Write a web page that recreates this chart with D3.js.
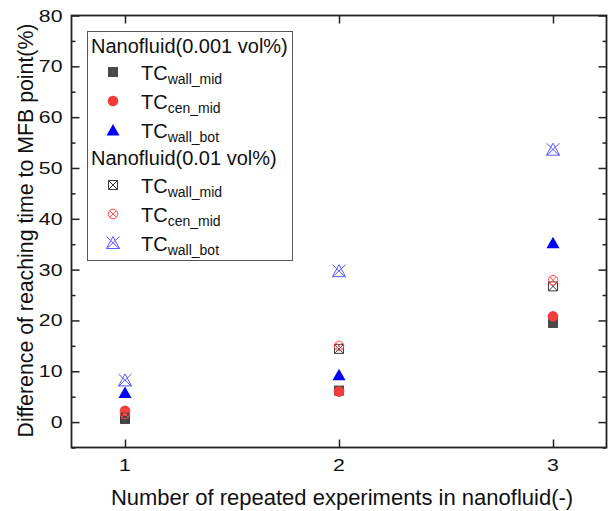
<!DOCTYPE html>
<html><head><meta charset="utf-8">
<script src="https://cdn.jsdelivr.net/npm/d3@7"></script>
<style>body{margin:0;background:#fff}svg{display:block}text{font-family:"Liberation Sans",Arial,sans-serif}</style>
</head><body><svg id="c" width="610" height="511"></svg>
<script>
const experiments = [1, 2, 3];
const wallMid001 = [0.6, 6.2, 19.5];
const cenMid001 = [2.2, 6.0, 20.8];
const wallBot001 = [5.8, 9.3, 35.3];
const wallMid01 = [0.9, 14.4, 26.7];
const cenMid01 = [1.6, 15.0, 27.9];
const wallBot01 = [8.2, 29.7, 53.6];
const xTicks = [1, 2, 3];
const yTicks = [0, 10, 20, 30, 40, 50, 60, 70, 80];
const yMinor = [-5, 5, 15, 25, 35, 45, 55, 65, 75];
const groupTitles = ["Nanofluid(0.001 vol%)", "Nanofluid(0.01 vol%)"];
const seriesSubs = ["wall_mid", "cen_mid", "wall_bot"];
const xTitle = "Number of repeated experiments in nanofluid(-)";
const yTitle = "Difference of reaching time to MFB point(%)";

const series = [
  {vals: wallMid001, shape: "square", color: "#4a4a4a", sub: seriesSubs[0]},
  {vals: cenMid001, shape: "circle", color: "#f23c3c", sub: seriesSubs[1]},
  {vals: wallBot001, shape: "triangle", color: "#0000ff", sub: seriesSubs[2]},
  {vals: wallMid01, shape: "squareX", color: "#3a3a3a", sub: seriesSubs[0]},
  {vals: cenMid01, shape: "circleX", color: "#ff4d4d", sub: seriesSubs[1]},
  {vals: wallBot01, shape: "triangleX", color: "#5a5aff", sub: seriesSubs[2]}
];

const L = 71.5, R = 606.5, T = 15.5, B = 447.5;
const x = d3.scaleLinear().domain([0.75, 3.25]).range([L, R]);
const y = d3.scaleLinear().domain([-5, 80]).range([B, T]);
const svg = d3.select("#c");
const axisColor = "#222";
const FONT = '"Liberation Sans",Arial,sans-serif';

function drawMarker(g, shape, color) {
  if (shape === "square") {
    g.append("rect").attr("x", -5).attr("y", -5).attr("width", 10).attr("height", 10).attr("fill", color);
  } else if (shape === "circle") {
    g.append("circle").attr("r", 5.3).attr("fill", color);
  } else if (shape === "triangle") {
    g.append("path").attr("d", "M0,-6L6.5,5.5L-6.5,5.5Z").attr("fill", color);
  } else if (shape === "squareX") {
    g.append("path").attr("d", "M-4.5,-4.5H4.5V4.5H-4.5Z M-4.5,-4.5L4.5,4.5 M4.5,-4.5L-4.5,4.5")
      .attr("fill", "none").attr("stroke", color).attr("stroke-width", 1);
  } else if (shape === "circleX") {
    g.append("circle").attr("r", 4.8).attr("fill", "none").attr("stroke", color).attr("stroke-width", 1);
    g.append("path").attr("d", "M-3.4,-3.4L3.4,3.4 M3.4,-3.4L-3.4,3.4").attr("stroke", color).attr("stroke-width", 1);
  } else if (shape === "triangleX") {
    g.append("path").attr("d", "M0,-6.5L6.5,5.5L-6.5,5.5Z M-6.5,-6.5L6.5,6 M6.5,-6.5L-6.5,6")
      .attr("fill", "none").attr("stroke", color).attr("stroke-width", 1);
  }
}

// data markers
series.forEach(s => {
  experiments.forEach((e, i) => {
    const g = svg.append("g").attr("transform", `translate(${x(e)},${y(s.vals[i])})`);
    drawMarker(g, s.shape, s.color);
  });
});

// axes: inward ticks, mirrored on right/top
const axL = d3.axisLeft(y).tickValues(yTicks).tickSize(-8).tickFormat("");
const axLm = d3.axisLeft(y).tickValues(yMinor).tickSize(-4).tickFormat("");
const axR = d3.axisRight(y).tickValues(yTicks).tickSize(-8).tickFormat("");
const axRm = d3.axisRight(y).tickValues(yMinor).tickSize(-4).tickFormat("");
const axB = d3.axisBottom(x).tickValues(xTicks).tickSize(-8).tickFormat("");
const axT = d3.axisTop(x).tickValues(xTicks).tickSize(-8).tickFormat("");

function styleAxis(g) {
  g.select(".domain").remove();
  g.selectAll("line").attr("stroke", axisColor).attr("stroke-width", 1.5);
}
svg.append("g").attr("transform", `translate(${L},0)`).call(axL).call(styleAxis);
svg.append("g").attr("transform", `translate(${L},0)`).call(axLm).call(styleAxis);
svg.append("g").attr("transform", `translate(${R},0)`).call(axR).call(styleAxis);
svg.append("g").attr("transform", `translate(${R},0)`).call(axRm).call(styleAxis);
svg.append("g").attr("transform", `translate(0,${B})`).call(axB).call(styleAxis);
svg.append("g").attr("transform", `translate(0,${T})`).call(axT).call(styleAxis);

// tick labels (slightly wide, as in the reference)
yTicks.forEach(v => {
  svg.append("text").attr("transform", `translate(62.5,${y(v) + 6}) scale(1.25,1)`)
    .attr("text-anchor", "end").style("font-size", "17px").style("font-family", FONT).attr("fill", "#111")
    .text(d3.format("d")(v));
});
xTicks.forEach(v => {
  svg.append("text").attr("transform", `translate(${x(v)},471) scale(1.25,1)`)
    .attr("text-anchor", "middle").style("font-size", "17px").style("font-family", FONT).attr("fill", "#111")
    .text(d3.format("d")(v));
});

svg.append("rect").attr("x", L).attr("y", T).attr("width", R - L).attr("height", B - T)
  .attr("fill", "none").attr("stroke", axisColor).attr("stroke-width", 1.8);

// axis titles
svg.append("text").attr("x", 342).attr("y", 505).attr("text-anchor", "middle")
  .style("font-size", "22px").attr("fill", "#111").text(xTitle);
svg.append("text").attr("transform", `translate(33,230.5) rotate(-90)`).attr("text-anchor", "middle")
  .style("font-size", "21.3px").attr("fill", "#111").text(yTitle);

// legend
const lg = svg.append("g");
lg.append("rect").attr("x", 87.5).attr("y", 31.5).attr("width", 205).attr("height", 229)
  .attr("fill", "#fff").attr("stroke", "#555").attr("stroke-width", 1);
const headerY = [52.5, 165];
const rowY = [[72, 101, 130], [185, 214, 243]];
groupTitles.forEach((t, gi) => {
  lg.append("text").attr("x", 91).attr("y", headerY[gi]).style("font-size", "20px").attr("fill", "#111").text(t);
  for (let k = 0; k < 3; k++) {
    const s = series[gi * 3 + k];
    const my = rowY[gi][k];
    const m = lg.append("g").attr("transform", `translate(113,${my})`);
    drawMarker(m, s.shape, s.color);
    const tx = lg.append("text").attr("x", 141).attr("y", my + 8).attr("fill", "#111").style("font-size", "20px");
    tx.append("tspan").text("TC");
    tx.append("tspan").attr("dy", 4).style("font-size", "14px").text(s.sub);
  }
});
</script></body></html>
